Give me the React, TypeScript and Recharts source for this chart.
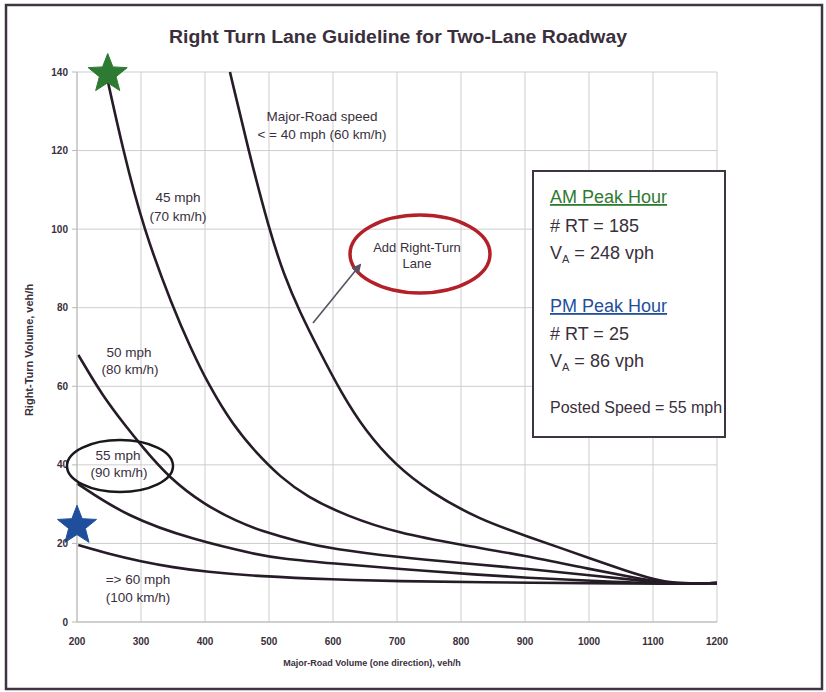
import React from 'react';
import { ComposedChart, Line, Scatter, XAxis, YAxis, CartesianGrid } from 'recharts';

const xTicks = [200, 300, 400, 500, 600, 700, 800, 900, 1000, 1100, 1200];
const yTicks = [0, 20, 40, 60, 80, 100, 120, 140];

// [major-road volume, right-turn volume]
const curveUpTo40 = [[439, 140], [468, 120], [500, 100], [524, 88], [548, 79], [577, 69.5], [614, 58], [650, 48.8], [697, 40], [752, 33], [830, 26], [900, 22], [1000, 16.3], [1080, 11.8], [1125, 9.7], [1200, 9.9]];
const curve45 = [[245, 140], [272, 120], [304, 100], [350, 80], [377, 70], [405, 60.5], [444, 50], [481, 42.9], [517, 37], [559, 31.9], [621, 27], [702, 22.6], [801, 19.6], [900, 16.9], [1000, 13.5], [1080, 11], [1125, 9.7], [1200, 9.9]];
const curve50 = [[202, 68], [240, 57.5], [278, 49.5], [300, 45], [345, 36.5], [400, 29.8], [450, 25.6], [486, 23.3], [550, 20.3], [600, 18.6], [702, 16.5], [800, 15], [900, 13.6], [1000, 11.9], [1080, 10.6], [1125, 9.7], [1200, 9.9]];
const curve55 = [[200, 35.3], [278, 26.8], [382, 20.9], [486, 17], [517, 16.2], [600, 14.9], [702, 13.5], [830, 12], [900, 11.3], [1000, 10.5], [1125, 9.7], [1200, 9.9]];
const curve60 = [[202, 19.6], [250, 17.3], [300, 15.4], [350, 13.9], [400, 12.8], [486, 11.6], [600, 10.8], [702, 10.4], [830, 10.1], [1000, 9.9], [1125, 9.7], [1200, 9.9]];

const amPeak = { title: 'AM Peak Hour', rt: 185, va: 248, color: '#2f7a33' };
const pmPeak = { title: 'PM Peak Hour', rt: 25, va: 86, color: '#1f4f9c' };
const postedSpeed = 55;

const X_MIN = 200, X_MAX = 1200, Y_MIN = 0, Y_MAX = 140;
const clamp = (v: number, lo: number, hi: number) => Math.max(lo, Math.min(hi, v));

const rows = (pts: number[][]) => pts.map(([x, y]) => ({ x, y }));
const stars = [amPeak, pmPeak].map((p) => ({ x: clamp(p.va, X_MIN, X_MAX), y: clamp(p.rt, Y_MIN, Y_MAX), color: p.color }));

const FONT = "'Liberation Sans', Arial, sans-serif";
const INK = '#3a2f3c';
const CURVE = '#261c28';

const Star = (props: any) => {
  const { cx, cy, payload } = props;
  const R = 20.5, r = 8.8;
  const pts: string[] = [];
  for (let i = 0; i < 10; i++) {
    const rad = i % 2 === 0 ? R : r;
    const a = -Math.PI / 2 + (i * Math.PI) / 5;
    pts.push(`${cx + rad * Math.cos(a)},${cy + 2 + rad * Math.sin(a)}`);
  }
  return <polygon points={pts.join(' ')} fill={payload.color} stroke={payload.color} strokeWidth={1} />;
};

const Sub = ({ children }: any) => (
  <tspan fontSize={11} dy={4}>{children}</tspan>
);

export default function App() {
  const lineProps = { type: 'basis' as const, dataKey: 'y', stroke: CURVE, strokeWidth: 2.6, dot: false, isAnimationActive: false };
  return (
    <div style={{ position: 'absolute', left: 0, top: 0, width: 826, height: 692, background: '#fff' }}>
      <ComposedChart width={826} height={692} margin={{ top: 72, right: 109, bottom: 40, left: 47 }}>
        <CartesianGrid stroke="#cdcdcd" strokeWidth={1} />
        <XAxis dataKey="x" type="number" domain={[X_MIN, X_MAX]} ticks={xTicks} height={30}
          tickLine={false} tickMargin={10} axisLine={{ stroke: '#b8b8b8' }}
          tick={{ fontSize: 10, fontWeight: 700, fill: INK, fontFamily: FONT }} />
        <YAxis type="number" domain={[Y_MIN, Y_MAX]} ticks={yTicks} width={30}
          tickSize={5} tickMargin={4} tickLine={{ stroke: '#b8b8b8' }} axisLine={{ stroke: '#b8b8b8' }}
          tick={{ fontSize: 10, fontWeight: 700, fill: INK, fontFamily: FONT }} />
        <Line data={rows(curveUpTo40)} {...lineProps} />
        <Line data={rows(curve45)} {...lineProps} />
        <Line data={rows(curve50)} {...lineProps} />
        <Line data={rows(curve55)} {...lineProps} />
        <Line data={rows(curve60)} {...lineProps} />
        <Scatter data={stars} dataKey="y" shape={Star} isAnimationActive={false} />
      </ComposedChart>
      <svg width={826} height={692} style={{ position: 'absolute', left: 0, top: 0, pointerEvents: 'none' }} fontFamily={FONT}>
        <defs>
          <marker id="ah" viewBox="0 0 10 10" refX="8" refY="5" markerWidth="6" markerHeight="6" orient="auto-start-reverse">
            <path d="M0,0 L10,5 L0,10 z" fill="#5a5062" />
          </marker>
        </defs>
        <rect x={6} y={5} width={816} height={684} fill="none" stroke="#3f3442" strokeWidth={2.5} />
        <text x={398} y={43} textAnchor="middle" fontSize={18} fontWeight={700} fill={INK} textLength={458} lengthAdjust="spacingAndGlyphs">Right Turn Lane Guideline for Two-Lane Roadway</text>
        <text x={372} y={666} textAnchor="middle" fontSize={9} fontWeight={700} fill={INK}>Major-Road Volume (one direction), veh/h</text>
        <text transform="translate(33,350) rotate(-90)" textAnchor="middle" fontSize={11} fontWeight={700} fill={INK}>Right-Turn Volume, veh/h</text>

        <text x={322} y={121} textAnchor="middle" fontSize={13.5} fill={INK}>Major-Road speed</text>
        <text x={322} y={139} textAnchor="middle" fontSize={13.5} fill={INK}>{'< = 40 mph (60 km/h)'}</text>
        <text x={178} y={202} textAnchor="middle" fontSize={13.5} fill={INK}>45 mph</text>
        <text x={178} y={221} textAnchor="middle" fontSize={13.5} fill={INK}>(70 km/h)</text>
        <text x={129} y={357} textAnchor="middle" fontSize={13.5} fill={INK}>50 mph</text>
        <text x={130} y={374} textAnchor="middle" fontSize={13.5} fill={INK}>(80 km/h)</text>
        <text x={118} y={460} textAnchor="middle" fontSize={13.5} fill={INK}>55 mph</text>
        <text x={119} y={477} textAnchor="middle" fontSize={13.5} fill={INK}>(90 km/h)</text>
        <text x={138} y={584} textAnchor="middle" fontSize={13.5} fill={INK}>{'=> 60 mph'}</text>
        <text x={138} y={602} textAnchor="middle" fontSize={13.5} fill={INK}>(100 km/h)</text>

        <ellipse cx={120} cy={466} rx={53} ry={26} fill="none" stroke="#1c161d" strokeWidth={2.5} />
        <ellipse cx={420} cy={254} rx={70} ry={39} fill="none" stroke="#b3202a" strokeWidth={3.5} />
        <text x={417} y={252} textAnchor="middle" fontSize={13} fill={INK}>Add Right-Turn</text>
        <text x={417} y={268} textAnchor="middle" fontSize={13} fill={INK}>Lane</text>
        <line x1={313} y1={323} x2={360} y2={265} stroke="#5a5062" strokeWidth={1.6} markerEnd="url(#ah)" />

        <rect x={533} y={171} width={192} height={266} fill="#fff" stroke="#3f3442" strokeWidth={2} />
        <text x={550} y={203} fontSize={18} fill={amPeak.color} textDecoration="underline">{amPeak.title}</text>
        <text x={550} y={232} fontSize={18} fill={INK}># RT = {amPeak.rt}</text>
        <text x={550} y={259} fontSize={18} fill={INK}>V<Sub>A</Sub><tspan dy={-4}> = {amPeak.va} vph</tspan></text>
        <text x={550} y={312} fontSize={18} fill={pmPeak.color} textDecoration="underline">{pmPeak.title}</text>
        <text x={550} y={340} fontSize={18} fill={INK}># RT = {pmPeak.rt}</text>
        <text x={550} y={367} fontSize={18} fill={INK}>V<Sub>A</Sub><tspan dy={-4}> = {pmPeak.va} vph</tspan></text>
        <text x={550} y={413} fontSize={16} fill={INK}>Posted Speed = {postedSpeed} mph</text>
      </svg>
    </div>
  );
}
